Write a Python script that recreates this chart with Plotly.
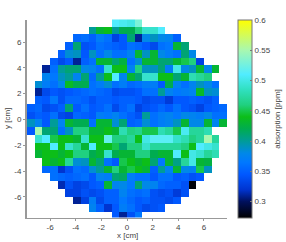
import plotly.graph_objects as go

pitch_cm = 0.6
x_centres = [round(-7.5 + 0.6 * i, 2) for i in range(26)]
y_centres = [round(7.5 - 0.6 * i, 2) for i in range(26)]

first_col = [11, 8, 6, 5, 4, 3, 2, 2, 1, 1, 1, 0, 0, 0, 0, 1, 1, 1, 2, 2, 3, 4, 5, 6, 8, 11]

absorption_rows = [
    [.51, .505, .50, .53],
    [.40, .43, .44, .40, .42, .42, .46, .49, .49, .51],
    [.355, .36, .35, .37, .36, .33, .345, .41, .31, .38, .39, .38, .375, .35],
    [.35, .41, .34, .345, .36, .355, .35, .345, .36, .355, .345, .335, .36, .365, .43, .41],
    [.35, .385, .39, .345, .39, .36, .38, .36, .36, .375, .43, .39, .43, .38, .37, .36, .41, .38],
    [.35, .335, .345, .31, .35, .36, .43, .43, .41, .425, .36, .385, .43, .43, .41, .41, .43, .45, .46, .33],
    [.31, .36, .40, .41, .41, .38, .375, .36, .49, .44, .44, .375, .46, .39, .39, .41, .37, .50, .38, .39, .43, .38, .43],
    [.375, .365, .39, .40, .375, .41, .355, .40, .44, .51, .375, .43, .41, .49, .49, .44, .44, .41, .43, .48, .47, .46],
    [.385, .37, .36, .38, .435, .42, .42, .36, .37, .385, .36, .37, .355, .36, .37, .37, .345, .42, .375, .36, .375, .39, .38, .36],
    [.31, .335, .345, .34, .345, .35, .355, .36, .355, .35, .335, .34, .34, .345, .36, .36, .40, .375, .365, .37, .375, .435, .39, .385],
    [.35, .345, .365, .34, .355, .355, .35, .34, .35, .35, .345, .35, .35, .345, .335, .34, .34, .325, .345, .345, .35, .345, .34, .35],
    [.35, .355, .335, .34, .35, .41, .345, .36, .345, .35, .36, .335, .35, .36, .33, .34, .345, .355, .345, .36, .345, .34, .33, .345, .35, .355],
    [.34, .35, .345, .36, .335, .33, .355, .35, .345, .37, .365, .375, .36, .35, .34, .40, .36, .37, .375, .365, .38, .375, .37, .38, .36, .36],
    [.39, .375, .345, .40, .375, .43, .42, .42, .36, .43, .43, .385, .41, .35, .355, .385, .36, .37, .375, .39, .43, .38, .38, .43, .375, .43],
    [.345, .55, .41, .41, .36, .39, .46, .46, .43, .43, .44, .43, .48, .46, .465, .45, .45, .48, .47, .45, .505, .47, .47, .48],
    [.49, .51, .45, .44, .44, .43, .49, .44, .44, .52, .46, .46, .47, .44, .50, .515, .515, .515, .49, .48, .46, .47, .55, .47],
    [.44, .44, .51, .44, .49, .47, .43, .51, .44, .44, .45, .41, .46, .46, .49, .47, .47, .47, .47, .46, .44, .51, .50, .49],
    [.43, .44, .44, .43, .44, .46, .46, .42, .43, .49, .42, .43, .43, .46, .46, .42, .43, .43, .51, .44, .50, .49, .47, .48],
    [.44, .43, .44, .47, .385, .39, .43, .41, .36, .345, .45, .44, .43, .44, .41, .365, .43, .405, .47, .50, .43, .425],
    [.355, .36, .32, .34, .36, .355, .385, .40, .43, .46, .43, .45, .44, .43, .35, .40, .375, .43, .38, .375, .45, .39],
    [.36, .355, .35, .355, .36, .345, .375, .37, .41, .415, .37, .36, .36, .345, .36, .36, .345, .35, .34, .345],
    [.315, .34, .33, .335, .345, .35, .43, .375, .38, .365, .41, .38, .375, .355, .35, .35, .34, .275],
    [.33, .33, .34, .335, .34, .35, .35, .375, .36, .355, .36, .34, .335, .34, .325, .34],
    [.31, .33, .37, .335, .35, .35, .365, .355, .345, .35, .34, .34, .335, .345],
    [.375, .35, .32, .345, .37, .36, .345, .335, .34, .345],
    [.345, .31, .34, .365],
]

tick_vals = [-6, -4, -2, 0, 2, 4, 6]
x_tick_text = ["-6", "-4", "-2", "0", "2", "4", "6"]
y_tick_text = ["-6", "-4", "-2", "0", "2", "4", "6"]
cbar_vals = [0.3, 0.35, 0.4, 0.45, 0.5, 0.55, 0.6]
cbar_text = ["0.3", "0.35", "0.4", "0.45", "0.5", "0.55", "0.6"]

z_min, z_max = 0.273, 0.6
colour_stops = [
    (0.273, "#000000"), (0.30, "#00105c"), (0.32, "#0034d0"), (0.345, "#0058ff"),
    (0.365, "#0078ff"), (0.38, "#0088e8"), (0.40, "#009c98"), (0.42, "#00ac50"),
    (0.44, "#0cbe18"), (0.46, "#20d080"), (0.485, "#30e0c0"), (0.51, "#50ecff"),
    (0.55, "#a8f8b0"), (0.60, "#ffff00"),
]
colorscale = [[(v - z_min) / (z_max - z_min), c] for v, c in colour_stops]

z = []
for start, row in zip(first_col, absorption_rows):
    full = [None] * 26
    full[start:start + len(row)] = row
    z.append(full)

W, H = 286, 242
text_col = "#444444"
line_col = "#999999"

fig = go.Figure(go.Heatmap(
    x=x_centres, y=y_centres, z=z, zmin=z_min, zmax=z_max,
    colorscale=colorscale, hoverongaps=False, xgap=0, ygap=0,
    colorbar=dict(
        x=237.7 / W, xanchor="left", xpad=0, y=1 - 119 / H, yanchor="middle", ypad=0,
        len=198 / H, thickness=14, outlinecolor="#777777", outlinewidth=1,
        tickvals=cbar_vals, ticktext=cbar_text, ticks="inside", ticklen=2,
        tickcolor="#777777", tickfont=dict(size=8, color=text_col),
        title=dict(text="absorption [ppm]", side="right", font=dict(size=8, color=text_col)),
    ),
))

axis_common = dict(
    tickvals=tick_vals, ticks="outside", ticklen=2, tickcolor=line_col, tickwidth=1,
    tickfont=dict(size=8, color=text_col), showgrid=False, zeroline=False,
    showline=True, linecolor=line_col, mirror=False,
)
fig.update_xaxes(range=[-7.8, 7.8], ticktext=x_tick_text, linewidth=1,
                 domain=[27 / W, 227 / W], **axis_common)
fig.update_yaxes(range=[-7.6, 7.75], ticktext=y_tick_text, linewidth=2,
                 domain=[1 - 217.5 / H, 1 - 19.5 / H], **axis_common)
fig.update_layout(
    width=W, height=H, autosize=False,
    margin=dict(l=0, r=0, t=0, b=0, pad=0),
    font=dict(family="Liberation Sans, Arial, sans-serif", size=8, color=text_col),
    paper_bgcolor="white", plot_bgcolor="white",
    annotations=[
        dict(text="x [cm]", xref="paper", yref="paper", x=127 / W, y=1 - 235 / H,
             xanchor="center", yanchor="middle",
             showarrow=False, font=dict(size=8, color=text_col)),
        dict(text="y [cm]", xref="paper", yref="paper", x=7 / W, y=1 - 119 / H,
             xanchor="center", yanchor="middle",
             textangle=-90, showarrow=False, font=dict(size=8, color=text_col)),
    ],
)
fig.write_html("out.html", config={"displayModeBar": False},
               post_script="document.body.style.margin='0';")
